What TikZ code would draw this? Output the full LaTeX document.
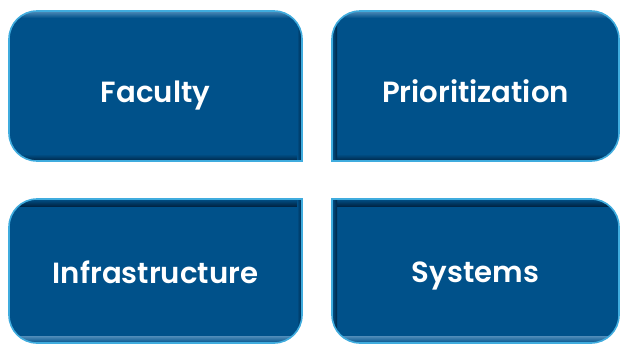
\documentclass[tikz,border=0pt]{standalone}
\usepackage{fontspec}
\newfontfamily\lbl{Poppins}[UprightFont=* SemiBold]
\definecolor{mainblue}{RGB}{0,81,138}
\definecolor{edgelight}{RGB}{64,172,222}
\definecolor{edgedark}{RGB}{0,38,70}
\definecolor{toplight}{RGB}{80,140,185}
\newcommand{\panelshape}[2]{%
  (0,0) -- (-#1+28,0) arc[start angle=270,end angle=180,radius=28]
  -- (-#1,#2-28) arc[start angle=180,end angle=90,radius=28]
  -- (-28,#2) arc[start angle=90,end angle=0,radius=28] -- cycle}
\newcommand{\panel}[3]{%
  \begin{scope}[#1]
    \fill[mainblue] \panelshape{#2}{#3};
    \begin{scope}
      \clip \panelshape{#2}{#3};
      \shade[top color=toplight,bottom color=mainblue] (-#2,#3) rectangle (0,#3-7);
      \shade[top color=mainblue,bottom color=edgedark] (-#2,7) rectangle (0,0);
      \shade[left color=mainblue,right color=edgedark] (-5,0) rectangle (0,#3);
    \end{scope}
    \draw[edgelight,line width=1.6] \panelshape{#2}{#3};
  \end{scope}}
\tikzset{label/.style={text=white,font=\lbl\fontsize{29.3}{34}\selectfont,anchor=base,inner sep=0pt}}
\begin{document}
\begin{tikzpicture}[x=1bp,y=1bp]
  \useasboundingbox (0,0) rectangle (621,345);
  \panel{shift={(302,184)}}{293}{150}
  \panel{shift={(332,184)},xscale=-1}{287}{150}
  \panel{shift={(302,146)},yscale=-1}{293}{144}
  \panel{shift={(332,146)},xscale=-1,yscale=-1}{287}{144}
  \node[label] (faculty) at (155.5,243) {Faculty};
  \node[label] (prio) at (475.5,243) {Prioritization};
  \node[label] (infra) at (155.5,62) {Infrastructure};
  \node[label] (sys) at (475.5,63) {Systems};
\end{tikzpicture}
\end{document}
